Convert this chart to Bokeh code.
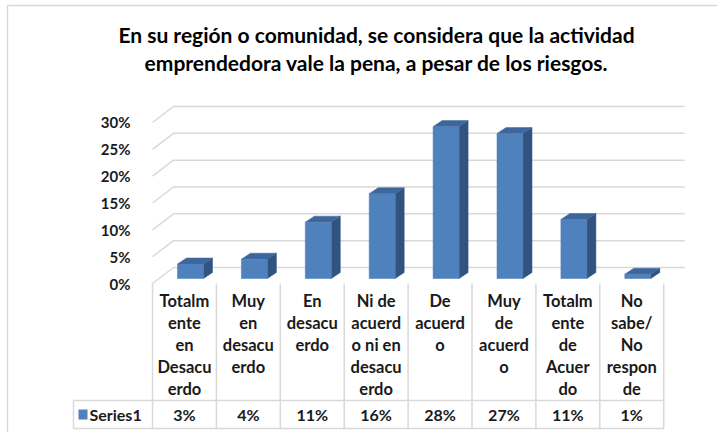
from bokeh.plotting import figure
from bokeh.models import ColumnDataSource, Range1d, LinearAxis, FixedTicker, PrintfTickFormatter
from bokeh.core.properties import value
from bokeh.embed import file_html
from bokeh.resources import INLINE

# ---------------- data ----------------
categories = [
    "Totalm\nente\nen\nDesacu\nerdo",
    "Muy\nen\ndesacu\nerdo",
    "En\ndesacu\nerdo",
    "Ni de\nacuerd\no ni en\ndesacu\nerdo",
    "De\nacuerd\no",
    "Muy\nde\nacuerd\no",
    "Totalm\nente\nde\nAcuer\ndo",
    "No\nsabe/\nNo\nrespon\nde",
]
values = [2.7, 3.6, 10.5, 15.8, 28.3, 27.0, 11.0, 0.8]
value_labels = ["3%", "4%", "11%", "16%", "28%", "27%", "11%", "1%"]
y_ticks = [0, 5, 10, 15, 20, 25, 30]
series_name = "Series1"
title_text = "En su región o comunidad, se considera que la actividad\nemprendedora vale la pena, a pesar de los riesgos."

# ---------------- layout constants (pixels on page) ----------------
W, H = 717, 432
PAGE_X0, PAGE_Y0 = 0, 0          # canvas origin on the photographed page
X0, SX = 152.0, 63.9             # page x of category 0 edge, px per category
Y0, SY = 283.0, 5.367            # page y of 0 %, px per percent

def dx(px):  # pixel distance -> data x distance
    return px / SX

def dy(px):
    return px / SY

def xp(page_x):
    return (page_x - X0) / SX

def yp(page_y):
    return (Y0 - page_y) / SY

FONT = value("Lato")
GRID = "#d9d9d9"
BLUE_FRONT = "#4f81bd"
BLUE_TOP = "#3d679c"
BLUE_SIDE = "#30537f"
TXT = "#1a1a1a"

n = len(values)

p = figure(
    width=W, height=H, title=None,
    x_range=Range1d(xp(PAGE_X0), xp(PAGE_X0 + W)),
    y_range=Range1d(yp(PAGE_Y0 + H), yp(PAGE_Y0)),
    x_axis_type=None, y_axis_type=None,
    toolbar_location=None, output_backend="svg",
    min_border=0, outline_line_color=None,
)
p.background_fill_color = "white"
p.border_fill_color = "white"

# chart border (left & top)
p.multi_line(
    xs=[[xp(7), xp(7), xp(PAGE_X0 + W)]],
    ys=[[yp(PAGE_Y0 + H), yp(5), yp(5)]],
    line_color=GRID, line_width=1.5,
)

# 3D wall geometry
wall_dx, wall_dy = dx(21), dy(16)
grid_xs, grid_ys = [], []
for t in y_ticks:
    grid_xs.append([0, wall_dx, n + wall_dx])
    grid_ys.append([t, t + wall_dy, t + wall_dy])
p.multi_line(xs=grid_xs, ys=grid_ys, line_color=GRID, line_width=1.5)

# bars (front, side, top faces)
bar_l, bar_r = dx(25), dx(51)
bar_base = dy(5)
depth_x, depth_y = dx(9), dy(6)
fronts = dict(left=[], right=[], bottom=[], top=[])
side_xs, side_ys, top_xs, top_ys = [], [], [], []
for i, v in enumerate(values):
    l, r = i + bar_l, i + bar_r
    b, t = bar_base, bar_base + v
    fronts["left"].append(l); fronts["right"].append(r)
    fronts["bottom"].append(b); fronts["top"].append(t)
    side_xs.append([r, r + depth_x, r + depth_x, r])
    side_ys.append([b, b + depth_y, t + depth_y, t])
    top_xs.append([l, l + depth_x, r + depth_x, r])
    top_ys.append([t, t + depth_y, t + depth_y, t])
p.patches(side_xs, side_ys, fill_color=BLUE_SIDE, line_color=BLUE_SIDE, line_width=0.5)
p.patches(top_xs, top_ys, fill_color=BLUE_TOP, line_color=BLUE_TOP, line_width=0.5)
p.quad(source=ColumnDataSource(fronts), left="left", right="right", bottom="bottom", top="top",
       fill_color=BLUE_FRONT, line_color="#4a7ab3", line_width=0.5)

# y axis (front plane)
yaxis = LinearAxis(
    fixed_location=0,
    ticker=FixedTicker(ticks=y_ticks),
    formatter=PrintfTickFormatter(format="%d%%"),
    axis_line_color=None, major_tick_line_color=None, minor_tick_line_color=None,
    major_label_standoff=16,
    major_label_text_font="Lato", major_label_text_font_style="bold",
    major_label_text_font_size="15px", major_label_text_color=TXT,
)
p.add_layout(yaxis, "left")

# data table
row_y = yp(400)
bot_y = yp(428)
leg_x = xp(73)
tab_xs, tab_ys = [], []
for i in range(n + 1):
    tab_xs.append([i, i]); tab_ys.append([0, bot_y])
tab_xs.append([leg_x, n]); tab_ys.append([row_y, row_y])
tab_xs.append([leg_x, n]); tab_ys.append([bot_y, bot_y])
tab_xs.append([leg_x, leg_x]); tab_ys.append([row_y, bot_y])
p.multi_line(xs=tab_xs, ys=tab_ys, line_color=GRID, line_width=1.5)

centers = [i + 0.5 for i in range(n)]
p.text(x=centers, y=[yp(290)] * n, text=categories,
       text_font=FONT, text_font_style="bold", text_font_size="16.5px",
       text_color=TXT, text_align="center", text_baseline="top", text_line_height=1.1)

p.text(x=centers, y=[yp(414)] * n, text=value_labels,
       text_font=FONT, text_font_style="bold", text_font_size="16px",
       text_color=TXT, text_align="center", text_baseline="middle")

# legend key in table
p.quad(left=[xp(78)], right=[xp(87)], top=[yp(409)], bottom=[yp(419)],
       fill_color=BLUE_FRONT, line_color=None)
p.text(x=[xp(89)], y=[yp(414)], text=[series_name],
       text_font=FONT, text_font_style="bold", text_font_size="16px",
       text_color=TXT, text_align="left", text_baseline="middle")

# title
p.text(x=[xp(376)], y=[yp(21.5)], text=[title_text],
       text_font=FONT, text_font_style="bold", text_font_size="21px",
       text_color="black", text_align="center", text_baseline="top", text_line_height=1.13)

open("out.html", "w").write(file_html(p, INLINE))
